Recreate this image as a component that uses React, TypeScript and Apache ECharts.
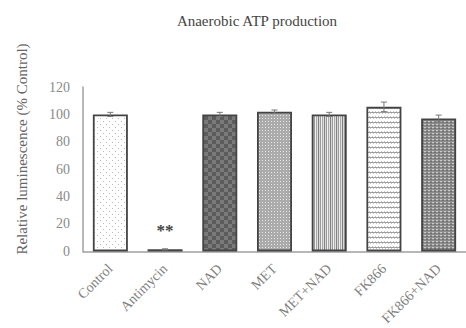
import React, { useEffect, useRef } from 'react';
import * as echarts from 'echarts';

const categories = ['Control', 'Antimycin', 'NAD', 'MET', 'MET+NAD', 'FK866', 'FK866+NAD'];
const values = [100, 1.5, 100, 102, 100, 105.5, 97];
const errors = [1.5, 0.4, 1.5, 1.2, 1.5, 3.5, 2.5];
const significance = ['', '**', '', '', '', '', ''];
const yTicks = { min: 0, max: 120, interval: 20 };
const yAxisTitle = 'Relative luminescence (% Control)';
const chartTitle = 'Anaerobic ATP production';
const patternKinds = ['dots', 'solid', 'checker', 'finedots', 'vstripes', 'wavy', 'cross'];

function makePattern(kind: string): any {
  const c = document.createElement('canvas');
  let w = 6, h = 6;
  if (kind === 'checker') { w = 8; h = 8; }
  if (kind === 'finedots') { w = 3; h = 3; }
  if (kind === 'cross') { w = 4; h = 3; }
  if (kind === 'vstripes') { w = 6; h = 2; }
  if (kind === 'wavy') { w = 6; h = 5; }
  c.width = w; c.height = h;
  const ctx = c.getContext('2d')!;
  if (kind === 'solid') {
    ctx.fillStyle = '#1e1e1e'; ctx.fillRect(0, 0, w, h);
  } else if (kind === 'dots') {
    ctx.fillStyle = '#ffffff'; ctx.fillRect(0, 0, w, h);
    ctx.fillStyle = '#b8b8b8';
    ctx.fillRect(1, 1, 1, 1); ctx.fillRect(4, 4, 1, 1);
  } else if (kind === 'checker') {
    ctx.fillStyle = '#7a7a7a'; ctx.fillRect(0, 0, w, h);
    ctx.fillStyle = '#5c5c5c';
    ctx.fillRect(0, 0, 4, 4); ctx.fillRect(4, 4, 4, 4);
  } else if (kind === 'finedots') {
    ctx.fillStyle = '#ababab'; ctx.fillRect(0, 0, w, h);
    ctx.fillStyle = '#e6e6e6';
    ctx.fillRect(1, 1, 1, 1);
  } else if (kind === 'vstripes') {
    const cols = ['#808080', '#d8d8d8', '#9a9a9a', '#f0f0f0', '#a8a8a8', '#e0e0e0'];
    cols.forEach((col, i) => { ctx.fillStyle = col; ctx.fillRect(i, 0, 1, h); });
  } else if (kind === 'wavy') {
    ctx.fillStyle = '#ffffff'; ctx.fillRect(0, 0, w, h);
    ctx.fillStyle = '#a0a0a0';
    ctx.fillRect(0, 2, 6, 1);
    ctx.fillStyle = '#c4c4c4';
    ctx.fillRect(0, 1, 1, 1); ctx.fillRect(3, 1, 1, 1); ctx.fillRect(1, 3, 1, 1); ctx.fillRect(4, 3, 1, 1);
  } else if (kind === 'cross') {
    ctx.fillStyle = '#8c8c8c'; ctx.fillRect(0, 0, w, h);
    ctx.fillStyle = '#cacaca';
    ctx.fillRect(0, 1, 2, 1);
    ctx.fillStyle = '#6e6e6e';
    ctx.fillRect(2, 2, 2, 1);
  }
  return { image: c, repeat: 'repeat', imageWidth: w, imageHeight: h };
}

export default function App() {
  const ref = useRef<HTMLDivElement>(null);
  useEffect(() => {
    if (!ref.current) return;
    const chart = echarts.init(ref.current, undefined, { renderer: 'svg' });
    const font = '"Liberation Serif", "Times New Roman", serif';
    chart.setOption({
      animation: false,
      backgroundColor: '#ffffff',
      title: {
        text: chartTitle,
        left: 252,
        textAlign: 'center',
        top: 8,
        textStyle: { fontFamily: font, fontSize: 15, fontWeight: 'normal', color: '#444' },
      },
      graphic: [
        {
          type: 'text',
          x: 22,
          y: 149,
          rotation: Math.PI / 2,
          style: {
            text: yAxisTitle,
            fontFamily: font,
            fontSize: 15,
            fill: '#666',
            align: 'center',
            verticalAlign: 'middle',
          },
        },
      ],
      grid: { left: 83, top: 87, width: 391, height: 166, containLabel: false },
      xAxis: {
        type: 'category',
        data: categories,
        axisLine: { lineStyle: { color: '#a0a0a0', width: 1.5 } },
        axisTick: { show: false },
        axisLabel: { rotate: 45, interval: 0, fontFamily: font, fontSize: 14, color: '#808080', margin: 15 },
      },
      yAxis: {
        type: 'value',
        min: yTicks.min,
        max: yTicks.max,
        interval: yTicks.interval,
        axisLine: { show: true, lineStyle: { color: '#a0a0a0', width: 1.5 } },
        axisTick: { show: false },
        splitLine: { show: false },
        axisLabel: { fontFamily: font, fontSize: 14, color: '#8a8a8a', margin: 13 },
      },
      series: [
        {
          type: 'bar',
          barWidth: 35,
          data: values.map((v, i) => ({
            value: v,
            itemStyle: { color: makePattern(patternKinds[i]), borderColor: '#444', borderWidth: 1.8 },
          })),
          label: {
            show: true,
            position: 'top',
            distance: 10,
            formatter: (p: any) => significance[p.dataIndex],
            fontFamily: font,
            fontSize: 17,
            fontWeight: 'bold',
            color: '#444',
          },
        },
        {
          type: 'custom',
          z: 5,
          data: values.map((v, i) => [i, v, errors[i]]),
          renderItem: (params: any, api: any) => {
            const x = api.value(0);
            const v = api.value(1);
            const e = api.value(2);
            const top = api.coord([x, v + e]);
            const bot = api.coord([x, v - e]);
            const hw = 3;
            const style = { stroke: '#777', lineWidth: 1 };
            return {
              type: 'group',
              children: [
                { type: 'line', shape: { x1: top[0], y1: top[1], x2: bot[0], y2: bot[1] }, style },
                { type: 'line', shape: { x1: top[0] - hw, y1: top[1], x2: top[0] + hw, y2: top[1] }, style },
                { type: 'line', shape: { x1: bot[0] - hw, y1: bot[1], x2: bot[0] + hw, y2: bot[1] }, style },
              ],
            };
          },
        },
      ],
    });
    return () => chart.dispose();
  }, []);
  return <div ref={ref} style={{ width: 466, height: 328, position: 'absolute', left: 0, top: 0 }} />;
}
